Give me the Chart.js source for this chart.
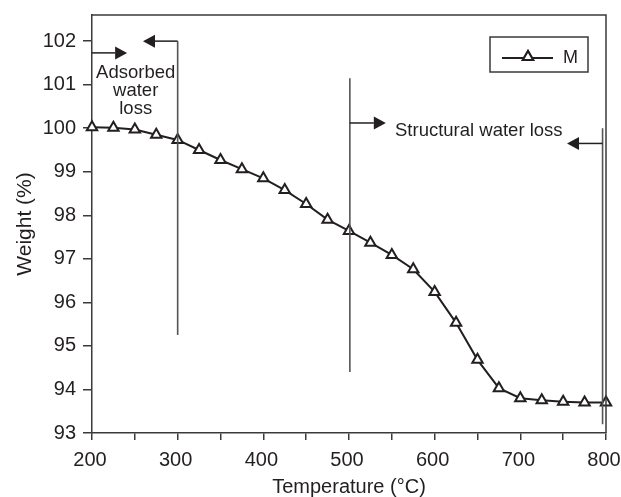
<!DOCTYPE html>
<html>
<head>
<meta charset="utf-8">
<script src="https://cdn.jsdelivr.net/npm/chart.js@4.4.1/dist/chart.umd.min.js"></script>
<style>
html,body{margin:0;padding:0;background:#fff;}
#wrap{width:621px;height:497px;}
</style>
</head>
<body>
<div id="wrap"><canvas id="c" width="621" height="497"></canvas></div>
<script>
// ---- data ----
const temperatures = [200,225,250,275,300,325,350,375,400,425,450,475,500,525,550,575,600,625,650,675,700,725,750,775,800];
const weights = [100.02,100.01,99.97,99.85,99.73,99.50,99.27,99.06,98.85,98.58,98.26,97.90,97.64,97.37,97.09,96.76,96.24,95.53,94.68,94.03,93.80,93.75,93.72,93.70,93.70];
const xTickValues = [200,250,300,350,400,450,500,550,600,650,700,750,800];
const yTickValues = [93,94,95,96,97,98,99,100,101,102];
const seriesName = 'M';
const xTitle = 'Temperature (°C)';
const yTitle = 'Weight (%)';

// annotation content (in data units)
const vLines = [
  {x:300, y0:102.0, y1:95.25},
  {x:501, y0:101.15, y1:94.4},
  {x:796, y0:100.0, y1:93.2}
];
const arrows = [
  {y:101.73, from:200, to:241},
  {y:102.0, from:300, to:259.5},
  {y:100.12, from:501, to:543},
  {y:99.65, from:796, to:754.5}
];
const notes = [
  {lines:['Adsorbed','water','loss'], x:251, y:101.146, align:'center'},
  {lines:['Structural water loss'], x:553.7, y:99.83, align:'left'}
];

const FONT = "'Liberation Sans', Arial, Helvetica, sans-serif";
const INK = '#231f20';
const AXIS = '#3a3a3a';

const annoPlugin = {
  id: 'anno',
  afterDatasetsDraw(chart) {
    const ctx = chart.ctx;
    const xs = chart.scales.x, ys = chart.scales.y;
    const ca = chart.chartArea;
    ctx.save();
    // frame top & right
    ctx.strokeStyle = AXIS;
    ctx.lineWidth = 1.5;
    ctx.beginPath();
    ctx.moveTo(ca.left, ca.top);
    ctx.lineTo(ca.right, ca.top);
    ctx.lineTo(ca.right, ca.bottom);
    ctx.stroke();
    // vertical lines
    ctx.strokeStyle = '#555';
    ctx.lineWidth = 1.6;
    vLines.forEach(v => {
      const px = xs.getPixelForValue(v.x);
      ctx.beginPath();
      ctx.moveTo(px, ys.getPixelForValue(v.y0));
      ctx.lineTo(px, ys.getPixelForValue(v.y1));
      ctx.stroke();
    });
    // arrows
    ctx.strokeStyle = INK;
    ctx.fillStyle = INK;
    ctx.lineWidth = 1.5;
    arrows.forEach(a => {
      const py = ys.getPixelForValue(a.y);
      const p0 = xs.getPixelForValue(a.from);
      const p1 = xs.getPixelForValue(a.to);
      const dir = p1 > p0 ? 1 : -1;
      const head = 12, half = 6.5;
      ctx.beginPath();
      ctx.moveTo(p0, py);
      ctx.lineTo(p1 - dir*head, py);
      ctx.stroke();
      ctx.beginPath();
      ctx.moveTo(p1, py);
      ctx.lineTo(p1 - dir*head, py - half);
      ctx.lineTo(p1 - dir*head, py + half);
      ctx.closePath();
      ctx.fill();
    });
    // notes
    ctx.font = '18.5px ' + FONT;
    ctx.fillStyle = INK;
    ctx.textBaseline = 'alphabetic';
    notes.forEach(n => {
      ctx.textAlign = n.align;
      const px = xs.getPixelForValue(n.x);
      let py = ys.getPixelForValue(n.y);
      n.lines.forEach(t => { ctx.fillText(t, px, py); py += 18; });
    });
    // legend
    const bx = ca.right - 116, by = ca.top + 22, bw = 98, bh = 35;
    ctx.fillStyle = '#fff';
    ctx.fillRect(bx, by, bw, bh);
    ctx.strokeStyle = AXIS;
    ctx.lineWidth = 1.5;
    ctx.strokeRect(bx, by, bw, bh);
    const ly = by + 21;
    ctx.strokeStyle = INK;
    ctx.lineWidth = 2;
    ctx.beginPath();
    ctx.moveTo(bx + 12, ly);
    ctx.lineTo(bx + 63, ly);
    ctx.stroke();
    Chart.helpers.drawPoint(ctx, {pointStyle:'triangle', radius:6, borderWidth:2, rotation:0}, bx + 38, ly - 1);
    ctx.fillStyle = '#fff';
    ctx.fill();
    ctx.stroke();
    ctx.fillStyle = INK;
    ctx.font = '18px ' + FONT;
    ctx.textAlign = 'left';
    ctx.fillText(chart.data.datasets[0].label, bx + 73, by + 26);
    ctx.restore();
  }
};

const points = temperatures.map((t, i) => ({x: t, y: weights[i]}));

new Chart(document.getElementById('c'), {
  type: 'line',
  data: {
    datasets: [{
      label: seriesName,
      data: points,
      borderColor: INK,
      borderWidth: 2,
      pointStyle: 'triangle',
      pointRadius: 6,
      pointBorderWidth: 2,
      pointBackgroundColor: '#fff',
      pointBorderColor: INK,
      tension: 0,
      clip: false
    }]
  },
  options: {
    responsive: false,
    animation: false,
    devicePixelRatio: 1,
    layout: {padding: {top: 15, right: 15, left: 0, bottom: 0}},
    plugins: {legend: {display: false}, tooltip: {enabled: false}},
    scales: {
      x: {
        type: 'linear', min: 200, max: 800,
        afterBuildTicks: s => { s.ticks = xTickValues.map(v => ({value: v})); },
        afterFit: s => { s.height = 64; s.paddingLeft = 0; s.paddingRight = 0; },
        ticks: {
          autoSkip: false, maxRotation: 0, minRotation: 0, padding: 10, labelOffset: -2,
          color: INK, font: {family: FONT, size: 20, lineHeight: 1},
          callback: v => (v % 100 === 0 ? String(v) : '')
        },
        grid: {drawOnChartArea: false, drawTicks: true, tickLength: 7, color: AXIS, lineWidth: 1.5},
        border: {display: true, color: AXIS, width: 1.5},
        title: {display: true, text: xTitle, color: INK, font: {family: FONT, size: 20, lineHeight: 1}, padding: {top: 0, bottom: 0}}
      },
      y: {
        type: 'linear', min: 93, max: 102.6,
        afterBuildTicks: s => { s.ticks = yTickValues.map(v => ({value: v})); },
        afterFit: s => { s.width = 92; s.paddingTop = 0; s.paddingBottom = 0; },
        ticks: {
          padding: 7, color: INK, font: {family: FONT, size: 20, lineHeight: 1},
          callback: v => String(v)
        },
        grid: {drawOnChartArea: false, drawTicks: true, tickLength: 9, color: AXIS, lineWidth: 1.5},
        border: {display: true, color: AXIS, width: 1.5},
        title: {display: true, text: yTitle, color: INK, font: {family: FONT, size: 21, lineHeight: 1}, padding: {top: 14.5, bottom: 0}}
      }
    }
  },
  plugins: [annoPlugin]
});
</script>
</body>
</html>
